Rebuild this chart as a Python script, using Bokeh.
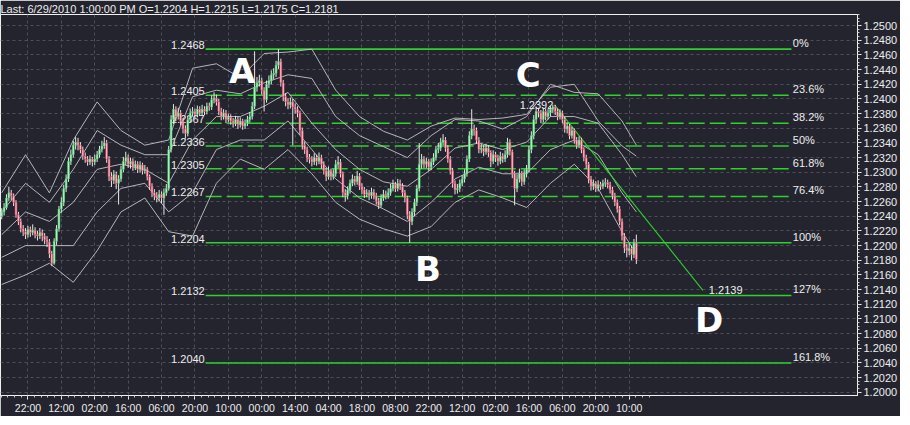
from bokeh.plotting import figure
from bokeh.models import FixedTicker, SingleIntervalTicker, PrintfTickFormatter, Range1d, ColumnDataSource
from bokeh.core.properties import value
from bokeh.embed import file_html
from bokeh.resources import INLINE

# ---------------- data (EURUSD H1) ----------------
opens = [1.2240, 1.2246, 1.2252, 1.2265, 1.2272, 1.2268, 1.2259, 1.2242, 1.2233, 1.2223,
         1.2219, 1.2215, 1.2222, 1.2218, 1.2221, 1.2215, 1.2213, 1.2218, 1.2213, 1.2208,
         1.2205, 1.2189, 1.2176, 1.2206, 1.2223, 1.2250, 1.2259, 1.2278, 1.2291, 1.2315,
         1.2324, 1.2337, 1.2341, 1.2337, 1.2331, 1.2322, 1.2318, 1.2314, 1.2318, 1.2314,
         1.2318, 1.2324, 1.2331, 1.2336, 1.2340, 1.2318, 1.2294, 1.2289, 1.2297, 1.2285,
         1.2291, 1.2304, 1.2315, 1.2320, 1.2311, 1.2315, 1.2307, 1.2311, 1.2304, 1.2310,
         1.2302, 1.2304, 1.2294, 1.2281, 1.2272, 1.2268, 1.2265, 1.2270, 1.2265, 1.2272,
         1.2278, 1.2331, 1.2372, 1.2386, 1.2376, 1.2381, 1.2370, 1.2359, 1.2353, 1.2372,
         1.2381, 1.2383, 1.2379, 1.2386, 1.2381, 1.2386, 1.2383, 1.2390, 1.2389, 1.2399,
         1.2401, 1.2396, 1.2383, 1.2376, 1.2381, 1.2372, 1.2375, 1.2370, 1.2367, 1.2372,
         1.2365, 1.2370, 1.2363, 1.2367, 1.2372, 1.2376, 1.2390, 1.2416, 1.2422, 1.2425,
         1.2412, 1.2399, 1.2420, 1.2425, 1.2433, 1.2435, 1.2446, 1.2451, 1.2422, 1.2403,
         1.2396, 1.2392, 1.2396, 1.2389, 1.2386, 1.2381, 1.2357, 1.2337, 1.2331, 1.2320,
         1.2318, 1.2314, 1.2320, 1.2315, 1.2320, 1.2311, 1.2302, 1.2294, 1.2302, 1.2294,
         1.2298, 1.2311, 1.2314, 1.2298, 1.2272, 1.2268, 1.2276, 1.2285, 1.2291, 1.2287,
         1.2295, 1.2281, 1.2276, 1.2270, 1.2272, 1.2268, 1.2273, 1.2268, 1.2261, 1.2255,
         1.2265, 1.2270, 1.2268, 1.2272, 1.2278, 1.2283, 1.2278, 1.2285, 1.2281, 1.2272,
         1.2265, 1.2242, 1.2233, 1.2246, 1.2259, 1.2278, 1.2311, 1.2318, 1.2311, 1.2315,
         1.2307, 1.2314, 1.2320, 1.2331, 1.2333, 1.2341, 1.2344, 1.2333, 1.2318, 1.2302,
         1.2285, 1.2276, 1.2278, 1.2285, 1.2291, 1.2298, 1.2318, 1.2350, 1.2359, 1.2357,
         1.2344, 1.2331, 1.2333, 1.2328, 1.2333, 1.2327, 1.2315, 1.2324, 1.2320, 1.2315,
         1.2322, 1.2318, 1.2324, 1.2341, 1.2328, 1.2298, 1.2278, 1.2291, 1.2298, 1.2287,
         1.2298, 1.2304, 1.2331, 1.2350, 1.2372, 1.2383, 1.2381, 1.2372, 1.2383, 1.2376,
         1.2381, 1.2386, 1.2389, 1.2383, 1.2376, 1.2381, 1.2372, 1.2359, 1.2363, 1.2350,
         1.2357, 1.2344, 1.2337, 1.2344, 1.2331, 1.2320, 1.2311, 1.2291, 1.2281, 1.2285,
         1.2278, 1.2283, 1.2281, 1.2285, 1.2286, 1.2283, 1.2276, 1.2268, 1.2259, 1.2250,
         1.2233, 1.2213, 1.2197, 1.2193, 1.2196, 1.2188, 1.2204]
closes = [1.2246, 1.2252, 1.2265, 1.2272, 1.2268, 1.2259, 1.2242, 1.2233, 1.2223, 1.2219,
          1.2215, 1.2222, 1.2218, 1.2221, 1.2215, 1.2213, 1.2218, 1.2213, 1.2208, 1.2205,
          1.2189, 1.2176, 1.2206, 1.2223, 1.2250, 1.2259, 1.2278, 1.2291, 1.2315, 1.2324,
          1.2337, 1.2341, 1.2337, 1.2331, 1.2322, 1.2318, 1.2314, 1.2318, 1.2314, 1.2318,
          1.2324, 1.2331, 1.2336, 1.2340, 1.2318, 1.2294, 1.2289, 1.2297, 1.2285, 1.2291,
          1.2304, 1.2315, 1.2320, 1.2311, 1.2315, 1.2307, 1.2311, 1.2304, 1.2310, 1.2302,
          1.2304, 1.2294, 1.2281, 1.2272, 1.2268, 1.2265, 1.2270, 1.2265, 1.2272, 1.2278,
          1.2331, 1.2372, 1.2386, 1.2376, 1.2381, 1.2370, 1.2359, 1.2353, 1.2372, 1.2381,
          1.2383, 1.2379, 1.2386, 1.2381, 1.2386, 1.2383, 1.2390, 1.2389, 1.2399, 1.2401,
          1.2396, 1.2383, 1.2376, 1.2381, 1.2372, 1.2375, 1.2370, 1.2367, 1.2372, 1.2365,
          1.2370, 1.2363, 1.2367, 1.2372, 1.2376, 1.2390, 1.2416, 1.2422, 1.2425, 1.2412,
          1.2399, 1.2420, 1.2425, 1.2433, 1.2435, 1.2446, 1.2451, 1.2422, 1.2403, 1.2396,
          1.2392, 1.2396, 1.2389, 1.2386, 1.2381, 1.2357, 1.2337, 1.2331, 1.2320, 1.2318,
          1.2314, 1.2320, 1.2315, 1.2320, 1.2311, 1.2302, 1.2294, 1.2302, 1.2294, 1.2298,
          1.2311, 1.2314, 1.2298, 1.2272, 1.2268, 1.2276, 1.2285, 1.2291, 1.2287, 1.2295,
          1.2281, 1.2276, 1.2270, 1.2272, 1.2268, 1.2273, 1.2268, 1.2261, 1.2255, 1.2265,
          1.2270, 1.2268, 1.2272, 1.2278, 1.2283, 1.2278, 1.2285, 1.2281, 1.2272, 1.2265,
          1.2242, 1.2233, 1.2246, 1.2259, 1.2278, 1.2311, 1.2318, 1.2311, 1.2315, 1.2307,
          1.2314, 1.2320, 1.2331, 1.2333, 1.2341, 1.2344, 1.2333, 1.2318, 1.2302, 1.2285,
          1.2276, 1.2278, 1.2285, 1.2291, 1.2298, 1.2318, 1.2350, 1.2359, 1.2357, 1.2344,
          1.2331, 1.2333, 1.2328, 1.2333, 1.2327, 1.2315, 1.2324, 1.2320, 1.2315, 1.2322,
          1.2318, 1.2324, 1.2341, 1.2328, 1.2298, 1.2278, 1.2291, 1.2298, 1.2287, 1.2298,
          1.2304, 1.2331, 1.2350, 1.2372, 1.2383, 1.2381, 1.2372, 1.2383, 1.2376, 1.2381,
          1.2386, 1.2389, 1.2383, 1.2376, 1.2381, 1.2372, 1.2359, 1.2363, 1.2350, 1.2357,
          1.2344, 1.2337, 1.2344, 1.2331, 1.2320, 1.2311, 1.2291, 1.2281, 1.2285, 1.2278,
          1.2283, 1.2281, 1.2285, 1.2286, 1.2283, 1.2276, 1.2268, 1.2259, 1.2250, 1.2233,
          1.2213, 1.2197, 1.2193, 1.2196, 1.2188, 1.2204, 1.2181]
highs = [1.2251, 1.2258, 1.2270, 1.2280, 1.2276, 1.2271, 1.2262, 1.2246, 1.2237, 1.2228,
         1.2224, 1.2227, 1.2226, 1.2229, 1.2225, 1.2220, 1.2224, 1.2222, 1.2217, 1.2213,
         1.2209, 1.2193, 1.2210, 1.2228, 1.2254, 1.2266, 1.2283, 1.2297, 1.2320, 1.2331,
         1.2343, 1.2348, 1.2347, 1.2341, 1.2335, 1.2327, 1.2322, 1.2323, 1.2321, 1.2324,
         1.2329, 1.2336, 1.2343, 1.2348, 1.2344, 1.2322, 1.2300, 1.2303, 1.2301, 1.2296,
         1.2309, 1.2321, 1.2328, 1.2324, 1.2320, 1.2319, 1.2316, 1.2315, 1.2315, 1.2313,
         1.2310, 1.2307, 1.2297, 1.2285, 1.2277, 1.2273, 1.2276, 1.2274, 1.2278, 1.2284,
         1.2336, 1.2378, 1.2393, 1.2390, 1.2388, 1.2385, 1.2374, 1.2364, 1.2377, 1.2387,
         1.2389, 1.2387, 1.2391, 1.2390, 1.2392, 1.2390, 1.2395, 1.2395, 1.2405, 1.2409,
         1.2406, 1.2400, 1.2388, 1.2386, 1.2385, 1.2380, 1.2379, 1.2374, 1.2377, 1.2376,
         1.2375, 1.2373, 1.2372, 1.2377, 1.2382, 1.2396, 1.2465, 1.2430, 1.2433, 1.2429,
         1.2416, 1.2425, 1.2432, 1.2439, 1.2442, 1.2452, 1.2468, 1.2455, 1.2426, 1.2408,
         1.2401, 1.2402, 1.2400, 1.2394, 1.2390, 1.2384, 1.2361, 1.2342, 1.2335, 1.2325,
         1.2322, 1.2326, 1.2324, 1.2327, 1.2324, 1.2315, 1.2306, 1.2308, 1.2305, 1.2304,
         1.2317, 1.2322, 1.2318, 1.2301, 1.2277, 1.2281, 1.2290, 1.2297, 1.2295, 1.2302,
         1.2299, 1.2285, 1.2280, 1.2277, 1.2276, 1.2279, 1.2277, 1.2272, 1.2265, 1.2270,
         1.2276, 1.2275, 1.2278, 1.2284, 1.2290, 1.2287, 1.2291, 1.2290, 1.2285, 1.2276,
         1.2268, 1.2247, 1.2251, 1.2264, 1.2283, 1.2340, 1.2325, 1.2322, 1.2320, 1.2318,
         1.2319, 1.2326, 1.2336, 1.2340, 1.2347, 1.2352, 1.2348, 1.2337, 1.2322, 1.2306,
         1.2289, 1.2284, 1.2290, 1.2296, 1.2304, 1.2323, 1.2356, 1.2386, 1.2365, 1.2361,
         1.2348, 1.2339, 1.2337, 1.2339, 1.2337, 1.2330, 1.2330, 1.2328, 1.2324, 1.2328,
         1.2326, 1.2330, 1.2347, 1.2345, 1.2331, 1.2302, 1.2297, 1.2305, 1.2302, 1.2304,
         1.2310, 1.2336, 1.2356, 1.2378, 1.2389, 1.2388, 1.2385, 1.2388, 1.2387, 1.2386,
         1.2390, 1.2392, 1.2392, 1.2387, 1.2386, 1.2384, 1.2376, 1.2368, 1.2366, 1.2362,
         1.2360, 1.2348, 1.2349, 1.2347, 1.2334, 1.2324, 1.2314, 1.2295, 1.2290, 1.2288,
         1.2289, 1.2287, 1.2290, 1.2292, 1.2290, 1.2287, 1.2280, 1.2272, 1.2263, 1.2254,
         1.2237, 1.2217, 1.2202, 1.2203, 1.2200, 1.2209, 1.2215]
lows = [1.2236, 1.2241, 1.2249, 1.2261, 1.2262, 1.2254, 1.2238, 1.2228, 1.2218, 1.2213,
        1.2209, 1.2211, 1.2212, 1.2214, 1.2210, 1.2207, 1.2209, 1.2206, 1.2202, 1.2198,
        1.2183, 1.2172, 1.2174, 1.2201, 1.2219, 1.2245, 1.2254, 1.2273, 1.2287, 1.2310,
        1.2320, 1.2331, 1.2330, 1.2326, 1.2317, 1.2313, 1.2309, 1.2310, 1.2308, 1.2310,
        1.2314, 1.2320, 1.2327, 1.2332, 1.2313, 1.2288, 1.2280, 1.2284, 1.2277, 1.2256,
        1.2287, 1.2300, 1.2310, 1.2306, 1.2305, 1.2302, 1.2303, 1.2299, 1.2300, 1.2297,
        1.2298, 1.2289, 1.2276, 1.2266, 1.2262, 1.2259, 1.2261, 1.2258, 1.2242, 1.2268,
        1.2275, 1.2327, 1.2366, 1.2370, 1.2372, 1.2364, 1.2353, 1.2346, 1.2349, 1.2368,
        1.2376, 1.2374, 1.2375, 1.2377, 1.2377, 1.2378, 1.2379, 1.2384, 1.2385, 1.2394,
        1.2391, 1.2378, 1.2371, 1.2372, 1.2367, 1.2368, 1.2365, 1.2361, 1.2363, 1.2359,
        1.2361, 1.2358, 1.2359, 1.2363, 1.2368, 1.2372, 1.2386, 1.2410, 1.2417, 1.2406,
        1.2383, 1.2395, 1.2415, 1.2420, 1.2427, 1.2430, 1.2441, 1.2417, 1.2397, 1.2390,
        1.2386, 1.2387, 1.2337, 1.2380, 1.2375, 1.2351, 1.2331, 1.2325, 1.2314, 1.2312,
        1.2308, 1.2310, 1.2309, 1.2311, 1.2305, 1.2297, 1.2288, 1.2290, 1.2289, 1.2290,
        1.2294, 1.2306, 1.2293, 1.2266, 1.2260, 1.2263, 1.2271, 1.2281, 1.2282, 1.2283,
        1.2276, 1.2270, 1.2265, 1.2266, 1.2262, 1.2264, 1.2263, 1.2256, 1.2250, 1.2252,
        1.2261, 1.2263, 1.2264, 1.2268, 1.2274, 1.2273, 1.2274, 1.2276, 1.2267, 1.2259,
        1.2236, 1.2204, 1.2228, 1.2240, 1.2254, 1.2274, 1.2305, 1.2306, 1.2306, 1.2302,
        1.2303, 1.2310, 1.2316, 1.2326, 1.2329, 1.2337, 1.2328, 1.2313, 1.2297, 1.2279,
        1.2270, 1.2271, 1.2273, 1.2281, 1.2286, 1.2294, 1.2314, 1.2345, 1.2350, 1.2339,
        1.2326, 1.2326, 1.2322, 1.2324, 1.2321, 1.2307, 1.2311, 1.2314, 1.2309, 1.2311,
        1.2313, 1.2314, 1.2320, 1.2323, 1.2292, 1.2255, 1.2273, 1.2286, 1.2281, 1.2283,
        1.2293, 1.2300, 1.2326, 1.2345, 1.2367, 1.2375, 1.2367, 1.2368, 1.2371, 1.2372,
        1.2376, 1.2381, 1.2378, 1.2371, 1.2372, 1.2367, 1.2354, 1.2353, 1.2345, 1.2346,
        1.2339, 1.2332, 1.2333, 1.2326, 1.2315, 1.2305, 1.2285, 1.2275, 1.2276, 1.2273,
        1.2274, 1.2276, 1.2277, 1.2280, 1.2278, 1.2271, 1.2263, 1.2254, 1.2245, 1.2228,
        1.2207, 1.2190, 1.2184, 1.2187, 1.2180, 1.2183, 1.2175]

# time axis labels (bar index of each label)
time_tick_bars = [-3, 11, 25, 39, 53, 67, 81, 95, 109, 123, 137, 151, 165, 179, 193, 207, 221, 235, 249, 263]
time_tick_labels = ["08:00", "22:00", "12:00", "02:00", "16:00", "06:00", "20:00", "10:00", "00:00", "14:00",
                    "04:00", "18:00", "08:00", "22:00", "12:00", "02:00", "16:00", "06:00", "20:00", "10:00"]

# Fibonacci levels
fib_pct = ["0%", "23.6%", "38.2%", "50%", "61.8%", "76.4%", "100%", "127%", "161.8%"]
fib_prices = [1.2468, 1.2405, 1.2367, 1.2336, 1.2305, 1.2267, 1.2204, 1.2132, 1.2040]

# Bollinger band lines (at sample bars)
band_bars = [0, 10, 20, 30, 40, 50, 60, 70, 80, 90, 100, 110, 120, 130, 140, 150, 160, 170, 180, 190,
             200, 210, 220, 230, 240, 250, 260, 266]
bb_up2 = [1.2272, 1.2324, 1.2272, 1.2344, 1.2396, 1.2357, 1.2337, 1.2344, 1.2442, 1.2448, 1.2429, 1.2462,
          1.2464, 1.2468, 1.2412, 1.2376, 1.2356, 1.2344, 1.2363, 1.2374, 1.2372, 1.2374, 1.2379, 1.2416,
          1.2420, 1.2370, 1.2336, 1.2322]
bb_up1 = [1.2246, 1.2285, 1.2259, 1.2304, 1.2357, 1.2337, 1.2324, 1.2324, 1.2403, 1.2412, 1.2407, 1.2422,
          1.2433, 1.2428, 1.2376, 1.2350, 1.2335, 1.2320, 1.2350, 1.2372, 1.2370, 1.2359, 1.2376, 1.2420,
          1.2409, 1.2407, 1.2370, 1.2337]
bb_mid = [1.2215, 1.2246, 1.2233, 1.2259, 1.2304, 1.2311, 1.2304, 1.2285, 1.2344, 1.2376, 1.2376, 1.2390,
          1.2409, 1.2367, 1.2331, 1.2304, 1.2287, 1.2281, 1.2304, 1.2333, 1.2340, 1.2331, 1.2341, 1.2376,
          1.2376, 1.2367, 1.2324, 1.2294]
bb_lo1 = [1.2184, 1.2200, 1.2200, 1.2200, 1.2246, 1.2278, 1.2285, 1.2246, 1.2272, 1.2331, 1.2344, 1.2344,
          1.2370, 1.2331, 1.2291, 1.2265, 1.2250, 1.2233, 1.2259, 1.2291, 1.2307, 1.2298, 1.2298, 1.2331,
          1.2344, 1.2324, 1.2272, 1.2246]
bb_lo2 = [1.2147, 1.2160, 1.2176, 1.2150, 1.2193, 1.2246, 1.2265, 1.2219, 1.2213, 1.2285, 1.2318, 1.2304,
          1.2331, 1.2298, 1.2259, 1.2236, 1.2223, 1.2213, 1.2226, 1.2259, 1.2276, 1.2265, 1.2252, 1.2285,
          1.2311, 1.2278, 1.2219, 1.2189]

# wave labels
wave_names = ["A", "B", "C", "D"]
wave_bars = [100.8, 178.7, 220.7, 296.5]
wave_prices = [1.2438, 1.2168, 1.2433, 1.2099]

# C -> D projection line
cd_bars = [231.7, 293.9]
cd_prices = [1.2392, 1.2139]

title_text = "Last: 6/29/2010 1:00:00 PM O=1.2204 H=1.2215 L=1.2175 C=1.2181"

# ---------------- styling ----------------
BG = "#24242e"
GRID = "#4e4e5a"
TXT = "#eeeeee"
GREEN = "#2fd02f"
BAND = "#c4c4c8"
FONT = "Liberation Sans"

n = min(len(opens), len(closes), len(highs), len(lows))
bars = list(range(n))

p = figure(width=900, height=416, output_backend="svg", toolbar_location=None,
           x_range=Range1d(-0.5, 358.7), y_range=Range1d(1.19956, 1.25152),
           y_axis_location="right", min_border_left=0, min_border_top=0,
           min_border_bottom=0, min_border_right=0)
p.background_fill_color = BG
p.border_fill_color = BG
p.outline_line_color = "#f0f0f0"
p.outline_line_width = 1

p.title.text = title_text
p.title.text_color = TXT
p.title.text_font = FONT
p.title.text_font_size = "11px"
p.title.text_font_style = "normal"
p.title.standoff = 0
p.title.offset = 0

# axes
minor = [time_tick_bars[0] + k * 2.8 for k in range(100) if time_tick_bars[0] + k * 2.8 <= 274]
p.xaxis.ticker = FixedTicker(ticks=time_tick_bars, minor_ticks=minor)
p.xaxis.major_label_overrides = {t: lab for t, lab in zip(time_tick_bars, time_tick_labels)}
p.yaxis.ticker = SingleIntervalTicker(interval=0.002, num_minor_ticks=4)
p.yaxis.formatter = PrintfTickFormatter(format="%.4f")
for ax in (p.xaxis, p.yaxis):
    ax.axis_label = None
    ax.axis_line_color = "#f0f0f0"
    ax.major_tick_line_color = "#f0f0f0"
    ax.minor_tick_line_color = "#c8c8c8"
    ax.major_tick_in = 0
    ax.major_tick_out = 4
    ax.minor_tick_in = 0
    ax.minor_tick_out = 2
    ax.major_label_text_color = TXT
    ax.major_label_text_font = FONT
    ax.major_label_standoff = 2
p.yaxis.major_label_text_font_size = "11px"
p.xaxis.major_label_text_font_size = "10.5px"

for g in (p.xgrid, p.ygrid):
    g.grid_line_color = GRID
    g.grid_line_dash = "3 3"
    g.grid_line_width = 1

# Fibonacci levels (drawn as background objects)
fib_x0, fib_x1 = 85.5, 331.0
solid_set = {"0%", "100%", "127%", "161.8%"}
sol = [pr for pr, pc in zip(fib_prices, fib_pct) if pc in solid_set]
das = [pr for pr, pc in zip(fib_prices, fib_pct) if pc not in solid_set]
p.segment(x0=[fib_x0] * len(sol), y0=sol, x1=[fib_x1] * len(sol), y1=sol, line_color=GREEN, line_width=1.6)
p.segment(x0=[fib_x0] * len(das), y0=das, x1=[fib_x1] * len(das), y1=das, line_color=GREEN, line_width=1.5,
          line_dash="16 5")
p.text(x=[fib_x0 - 0.4] * len(fib_prices), y=fib_prices, text=["%.4f" % v for v in fib_prices],
       text_align="right", text_baseline="bottom", text_color=TXT,
       text_font=value(FONT), text_font_size=value("11px"))
p.text(x=[fib_x1 + 0.6] * len(fib_pct), y=fib_prices, text=fib_pct,
       text_align="left", text_baseline="bottom", text_color=TXT,
       text_font=value(FONT), text_font_size=value("11px"))

# Bollinger bands
for arr in (bb_up2, bb_up1, bb_mid, bb_lo1, bb_lo2):
    p.line(band_bars, arr, line_color=BAND, line_width=1, line_alpha=0.9, line_join="round")

# C-D line and its labels
p.line(cd_bars, cd_prices, line_color=GREEN, line_width=1.1)
p.text(x=[cd_bars[0] - 0.5], y=[cd_prices[0]], text=["%.4f" % cd_prices[0]], text_align="right",
       text_baseline="middle", text_color=TXT, text_font=value(FONT), text_font_size=value("11px"))
p.text(x=[cd_bars[1] + 2.5], y=[cd_prices[1]], text=["%.4f" % cd_prices[1]], text_align="left",
       text_baseline="middle", text_color=TXT, text_font=value(FONT), text_font_size=value("11px"))

# candles
up = [i for i in bars if closes[i] >= opens[i]]
dn = [i for i in bars if closes[i] < opens[i]]
p.segment(x0=bars, y0=lows[:n], x1=bars, y1=highs[:n], line_color="#e8e8e8", line_width=1)
src_up = ColumnDataSource(dict(x=up, top=[closes[i] for i in up], bottom=[opens[i] for i in up]))
src_dn = ColumnDataSource(dict(x=dn, top=[opens[i] for i in dn], bottom=[closes[i] for i in dn]))
p.vbar(x="x", top="top", bottom="bottom", width=0.7, source=src_up,
       fill_color="#d6f5dc", line_color="#3fd36a", line_width=0.7)
p.vbar(x="x", top="top", bottom="bottom", width=0.7, source=src_dn,
       fill_color="#f7dce2", line_color="#e8405f", line_width=0.7)

# wave letters
p.text(x=wave_bars, y=wave_prices, text=wave_names, text_align="center", text_baseline="middle",
       text_color="#ffffff", text_font=value("DejaVu Sans"), text_font_size=value("34px"),
       text_font_style="bold")

html = file_html(p, INLINE, title="EURUSD H1")
html = html.replace("<body>", '<body style="background-color:%s;">' % BG, 1)
open("out.html", "w").write(html)
